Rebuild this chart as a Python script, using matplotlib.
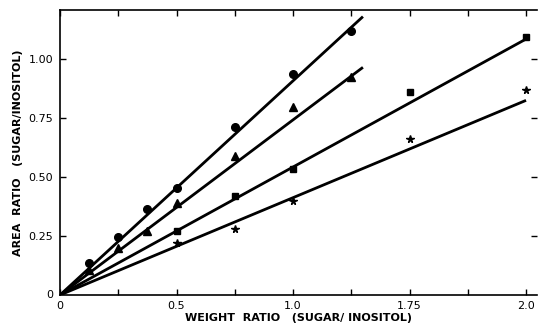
import matplotlib
matplotlib.use("Agg")
import matplotlib.pyplot as plt
import numpy as np

# Data
circle_x = [0.125, 0.25, 0.375, 0.5, 0.75, 1.0, 1.25]
circle_y = [0.135, 0.245, 0.365, 0.455, 0.71, 0.935, 1.12]
tri_x = [0.125, 0.25, 0.375, 0.5, 0.75, 1.0, 1.25]
tri_y = [0.105, 0.20, 0.27, 0.39, 0.59, 0.795, 0.925]
sq_x = [0.5, 0.75, 1.0, 1.5, 2.0]
sq_y = [0.27, 0.42, 0.535, 0.86, 1.095]
star_x = [0.5, 0.75, 1.0, 1.5, 2.0]
star_y = [0.22, 0.28, 0.40, 0.66, 0.87]

# fitted lines (from origin to end point)
line_circle = ([0, 1.30], [0, 1.18])
line_tri = ([0, 1.30], [0, 0.965])
line_sq = ([0, 2.0], [0, 1.085])
line_star = ([0, 2.0], [0, 0.825])

xticks = [0, 0.5, 1.0, 1.5, 2.0]
xticklabels = ["0", "0.5", "1.0", "1.75", "2.0"]
yticks = [0.25, 0.5, 0.75, 1.0]
yticklabels = ["0.25", "0.50", "0.75", "1.00"]

fig = plt.figure(figsize=(5.38, 3.26), dpi=100)
ax = fig.add_axes([60/538, 1-295/326, (537-60)/538, (295-10)/326])

lw = 2.0
for lx, ly in [line_circle, line_tri, line_sq, line_star]:
    ax.plot(lx, ly, color="black", lw=lw, solid_capstyle="butt")

ax.plot(circle_x, circle_y, "o", color="black", ms=5.5)
ax.plot(tri_x, tri_y, "^", color="black", ms=6)
ax.plot(sq_x, sq_y, "s", color="black", ms=5)
ax.plot(star_x, star_y, "*", color="black", ms=5.5)

ax.set_xlim(0, 2.047)
ax.set_ylim(0, 1.208)

ax.spines["right"].set_visible(False)
for s in ["left", "bottom", "top"]:
    ax.spines[s].set_linewidth(1.2)

ax.set_xticks(xticks)
ax.set_xticklabels(xticklabels)
ax.set_xticks([0.25, 0.75, 1.25, 1.75], minor=True)
ax.set_yticks(yticks)
ax.set_yticklabels(yticklabels)
ax.tick_params(axis="both", which="both", direction="in", length=4, width=1.0,
               top=True, right=True, labelsize=8)
ax.tick_params(axis="x", pad=4)
ax.tick_params(axis="y", pad=5)

# origin label on the y axis
ax.text(-0.03, 0.0, "0", transform=ax.transData, ha="right", va="center", fontsize=8)

ax.set_xlabel("WEIGHT  RATIO   (SUGAR/ INOSITOL)", fontsize=8, labelpad=2,
              fontweight="bold")
ax.set_ylabel("AREA  RATIO   (SUGAR/INOSITOL)", fontsize=8, labelpad=4,
              fontweight="bold")

fig.savefig("out.png", dpi=100)
